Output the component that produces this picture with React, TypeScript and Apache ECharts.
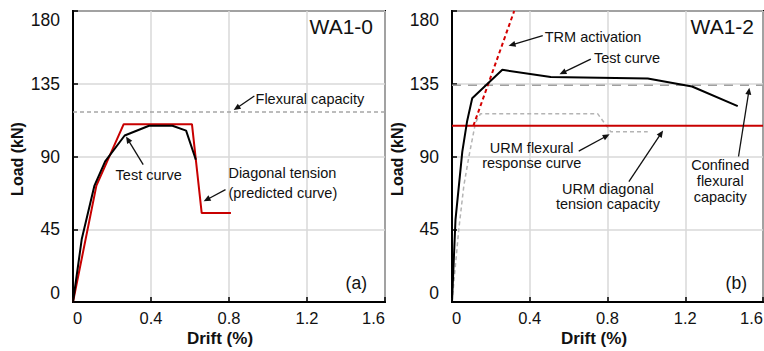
import React, { useEffect, useRef } from 'react';
import * as echarts from 'echarts';

// ---- axes ----
const driftMax = 1.6;
const driftStep = 0.4;
const loadMax = 180;
const loadStep = 45;

// ---- WA1-0 (panel a) ----
const wa10Test: [number, number][] = [
  [0, 0], [0.045, 39], [0.11, 72], [0.165, 87], [0.265, 103],
  [0.39, 109], [0.51, 109], [0.58, 106], [0.63, 88],
];
const wa10Predicted: [number, number][] = [
  [0, 0], [0.12, 72], [0.26, 110], [0.61, 110], [0.66, 55], [0.81, 55],
];
const wa10FlexuralCapacity = 117.5;

// ---- WA1-2 (panel b) ----
const wa12Test: [number, number][] = [
  [0, 0], [0.018, 51], [0.053, 93], [0.078, 112], [0.104, 126], [0.259, 143.6],
  [0.508, 139.2], [1.007, 138.2], [1.235, 133.3], [1.47, 121.2],
];
const wa12UrmFlexural: [number, number][] = [
  [0, 0], [0.035, 45], [0.061, 72], [0.087, 90], [0.121, 111], [0.147, 116.5],
  [0.749, 116.5], [0.817, 105.3], [1.007, 105.3],
];
const wa12TrmActivation: [number, number][] = [[0.11, 109], [0.32, 180]];
const wa12UrmDiagonal = 109;
const wa12ConfinedFlexural = 134;

// ---- annotations (data coordinates) ----
type Txt = { panel: number; text: string; at: [number, number]; align: string };
const annotationTexts: Txt[] = [
  { panel: 0, text: 'Flexural capacity', at: [0.936, 125.4], align: 'left' },
  { panel: 0, text: 'Test curve', at: [0.388, 78.8], align: 'center' },
  { panel: 0, text: 'Diagonal tension', at: [0.797, 80], align: 'left' },
  { panel: 0, text: '(predicted curve)', at: [0.797, 67.7], align: 'left' },
  { panel: 1, text: 'TRM activation', at: [0.477, 163.9], align: 'left' },
  { panel: 1, text: 'Test curve', at: [0.73, 150.8], align: 'left' },
  { panel: 1, text: 'URM flexural', at: [0.41, 95.4], align: 'center' },
  { panel: 1, text: 'response curve', at: [0.41, 86.1], align: 'center' },
  { panel: 1, text: 'URM diagonal', at: [0.802, 70.1], align: 'center' },
  { panel: 1, text: 'tension capacity', at: [0.802, 60.8], align: 'center' },
  { panel: 1, text: 'Confined', at: [1.38, 84.6], align: 'center' },
  { panel: 1, text: 'flexural', at: [1.38, 74.7], align: 'center' },
  { panel: 1, text: 'capacity', at: [1.38, 65], align: 'center' },
];
type Arr = { panel: number; from: [number, number]; to: [number, number] };
const annotationArrows: Arr[] = [
  { panel: 0, from: [0.93, 127.4], to: [0.824, 118.7] },
  { panel: 0, from: [0.36, 85], to: [0.272, 102.4] },
  { panel: 0, from: [0.782, 69.5], to: [0.67, 62.3] },
  { panel: 1, from: [0.467, 164.7], to: [0.291, 158.5] },
  { panel: 1, from: [0.714, 150.2], to: [0.553, 140.9] },
  { panel: 1, from: [0.652, 93.3], to: [0.811, 103.7] },
  { panel: 1, from: [0.91, 74.5], to: [1.086, 106.1] },
  { panel: 1, from: [1.474, 90], to: [1.53, 132.6] },
];
const panelTitles = ['WA1-0', 'WA1-2'];
const panelTags = ['(a)', '(b)'];

const FONT = '"Liberation Sans", Arial, Helvetica, sans-serif';
const RED = '#c80000';

export default function App() {
  const ref = useRef<HTMLDivElement>(null);
  useEffect(() => {
    const chart = echarts.init(ref.current!, null, { renderer: 'svg' });
    const grids = [
      { left: 73, top: 11, width: 312, height: 291 },
      { left: 452, top: 11, width: 311, height: 291 },
    ];
    const hline = (v: number): [number, number][] => [[0, v], [driftMax, v]];
    const line = (gi: number, data: any, color: string, width: number, type: any, z = 2) => ({
      type: 'line', xAxisIndex: gi, yAxisIndex: gi, data, symbol: 'none', showSymbol: false,
      silent: true, z, lineStyle: { color, width, type }, emphasis: { disabled: true },
    });
    chart.setOption({
      animation: false,
      backgroundColor: '#fff',
      grid: grids.map((g) => ({
        ...g, show: true, borderColor: '#000', borderWidth: 2, backgroundColor: 'transparent',
        containLabel: false, outerBoundsMode: 'none',
      })),
      xAxis: grids.map((_, i) => ({
        type: 'value', gridIndex: i, min: 0, max: driftMax, interval: driftStep,
        axisLine: { show: true, onZero: false, lineStyle: { color: '#000', width: 2 } },
        axisTick: { show: true, inside: true, length: 5, lineStyle: { color: '#000', width: 1.5 } },
        splitLine: { show: true, lineStyle: { color: '#d9d9d9', width: 1.5 } },
        axisLabel: {
          show: true, color: '#111', fontSize: 16.5, fontFamily: FONT, margin: 7,
          formatter: (v: number) => (v === 0 ? '0' : v.toFixed(1)),
          showMinLabel: true, showMaxLabel: true, hideOverlap: false,
          alignMinLabel: 'left', alignMaxLabel: 'right',
        },
      })),
      yAxis: grids.map((_, i) => ({
        type: 'value', gridIndex: i, min: 0, max: loadMax, interval: loadStep,
        axisLine: { show: true, onZero: false, lineStyle: { color: '#000', width: 2 } },
        axisTick: { show: true, inside: true, length: 5, lineStyle: { color: '#000', width: 1.5 } },
        splitLine: { show: true, lineStyle: { color: '#d9d9d9', width: 1.5 } },
        axisLabel: {
          show: true, color: '#111', fontSize: 17.5, fontFamily: FONT, margin: 13,
          showMinLabel: true, showMaxLabel: true, hideOverlap: false,
          verticalAlignMinLabel: 'bottom', verticalAlignMaxLabel: 'top',
        },
      })),
      series: [
        line(0, hline(wa10FlexuralCapacity), '#a6a6a6', 1.5, [4, 3], 1),
        line(0, wa10Predicted, RED, 2, 'solid', 2),
        line(0, wa10Test, '#000', 2, 'solid', 3),
        line(1, hline(wa12ConfinedFlexural), '#a0a0a0', 1.5, [9, 7], 1),
        line(1, wa12UrmFlexural, '#b4b4b4', 1.5, [4, 3], 1),
        line(1, hline(wa12UrmDiagonal), RED, 2, 'solid', 2),
        line(1, wa12TrmActivation, '#d40000', 2, [4, 3], 2),
        line(1, wa12Test, '#000', 2, 'solid', 3),
      ],
    });

    const px = (panel: number, p: [number, number]) =>
      chart.convertToPixel({ gridIndex: panel } as any, p) as number[];

    const graphics: any[] = [];
    annotationTexts.forEach((t) => {
      const [x, y] = px(t.panel, t.at);
      graphics.push({
        type: 'text', x, y, silent: true, z: 10,
        style: { text: t.text, fill: '#111', font: `14.5px ${FONT}`, align: t.align, verticalAlign: 'middle' },
      });
    });
    annotationArrows.forEach((a) => {
      const [x1, y1] = px(a.panel, a.from);
      const [x2, y2] = px(a.panel, a.to);
      const dx = x2 - x1, dy = y2 - y1;
      const len = Math.hypot(dx, dy);
      const ux = dx / len, uy = dy / len;
      const hl = 7, hw = 3;
      const bx = x2 - ux * hl, by = y2 - uy * hl;
      graphics.push({
        type: 'line', silent: true, z: 10,
        shape: { x1, y1, x2: bx + ux * 1, y2: by + uy * 1 },
        style: { stroke: '#111', lineWidth: 1.3 },
      });
      graphics.push({
        type: 'polygon', silent: true, z: 10,
        shape: { points: [[x2, y2], [bx - uy * hw, by + ux * hw], [bx + uy * hw, by - ux * hw]] },
        style: { fill: '#111' },
      });
    });
    grids.forEach((g, i) => {
      const right = g.left + g.width;
      const bottom = g.top + g.height;
      graphics.push({
        type: 'text', x: right - (i === 0 ? 12 : 9), y: g.top + 15, silent: true, z: 10,
        style: { text: panelTitles[i], fill: '#111', font: `21px ${FONT}`, align: 'right', verticalAlign: 'middle' },
      });
      graphics.push({
        type: 'text', x: right - (i === 0 ? 18 : 16), y: bottom - 19, silent: true, z: 10,
        style: { text: panelTags[i], fill: '#111', font: `17.5px ${FONT}`, align: 'right', verticalAlign: 'middle' },
      });
      graphics.push({
        type: 'text', x: i === 0 ? 17 : 397, y: 159, rotation: Math.PI / 2, silent: true, z: 10,
        style: { text: 'Load (kN)', fill: '#111', font: `bold 16px ${FONT}`, align: 'center', verticalAlign: 'middle' },
      });
      graphics.push({
        type: 'text', x: i === 0 ? 220 : 594, y: 338, silent: true, z: 10,
        style: { text: 'Drift (%)', fill: '#111', font: `bold 17px ${FONT}`, align: 'center', verticalAlign: 'middle' },
      });
    });
    chart.setOption({ graphic: graphics });

    return () => chart.dispose();
  }, []);
  return (
    <div
      ref={ref}
      style={{ position: 'fixed', left: 0, top: 0, width: 764, height: 351, background: '#fff' }}
    />
  );
}
